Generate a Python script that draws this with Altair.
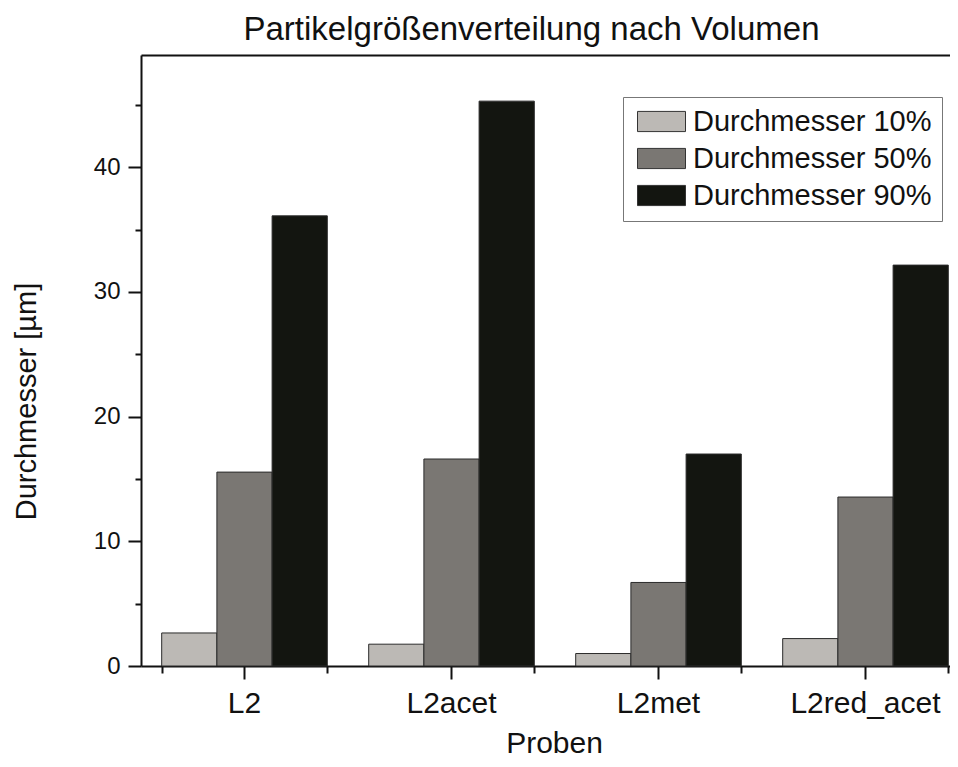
import altair as alt
import pandas as pd

proben = ["L2", "L2acet", "L2met", "L2red_acet"]
serien = ["Durchmesser 10%", "Durchmesser 50%", "Durchmesser 90%"]
d10 = [2.65, 1.75, 1.0, 2.2]
d50 = [15.55, 16.6, 6.7, 13.55]
d90 = [36.1, 45.3, 17.0, 32.15]
farben = ["#bcb9b5", "#7a7773", "#131510"]
y_ticks = [0, 5, 10, 15, 20, 25, 30, 35, 40, 45]

rows = []
for s, vals in zip(serien, [d10, d50, d90]):
    for p, v in zip(proben, vals):
        rows.append({"Probe": p, "Serie": s, "Wert": v})
df = pd.DataFrame(rows)
df_p = pd.DataFrame({"Probe": proben})

FONT = "Liberation Sans"
INK = "#111111"
W, H = 809, 611

x_scale = alt.Scale(domain=proben, range=[0, 828], paddingInner=0.2, paddingOuter=0.1)
y_scale = alt.Scale(domain=[0, 49], nice=False, zero=True)

bars = alt.Chart(df).mark_bar(stroke="#2b2b2b", strokeWidth=1).encode(
    x=alt.X("Probe:N", scale=x_scale, sort=proben,
            axis=alt.Axis(title="Proben", orient="bottom", labelAngle=0,
                          labelFont=FONT, labelFontSize=30, labelColor=INK, labelPadding=9,
                          tickSize=13, tickWidth=2, tickColor=INK, tickBand="center",
                          domain=True, domainWidth=2, domainColor=INK, grid=False,
                          titleFont=FONT, titleFontSize=30, titleFontWeight="normal",
                          titleColor=INK, titleX=413, titleY=86, titleAlign="center",
                          titleBaseline="alphabetic")),
    xOffset=alt.XOffset("Serie:N", sort=serien),
    y=alt.Y("Wert:Q", scale=y_scale,
            axis=alt.Axis(title="Durchmesser [µm]", values=y_ticks,
                          labelExpr="datum.value % 10 === 0 ? datum.label : ''",
                          labelFont=FONT, labelFontSize=24, labelColor=INK, labelPadding=8,
                          tickSize={"condition": {"test": "datum.value % 10 === 0", "value": 13}, "value": 6},
                          tickWidth=2, tickColor=INK,
                          domain=True, domainWidth=2, domainColor=INK, grid=False,
                          titleFont=FONT, titleFontSize=29, titleFontWeight="normal",
                          titleColor=INK, titleX=-106, titleY=346, titleAngle=270,
                          titleAlign="center", titleBaseline="alphabetic")),
    color=alt.Color("Serie:N", scale=alt.Scale(domain=serien, range=farben),
                    legend=alt.Legend(title=None, orient="none", legendX=482, legendY=42,
                                      symbolType="M-0.833,-0.84H3.167V0.84H-0.833Z", symbolSize=576,
                                      symbolStrokeColor="#333333", symbolStrokeWidth=1,
                                      symbolOpacity=1,
                                      labelFont=FONT, labelFontSize=29, labelColor=INK,
                                      labelExpr="datum.label + '    '", labelLimit=600,
                                      labelOffset=31, rowPadding=7, padding=10,
                                      strokeColor="#777777",
                                      fillColor="white")),
)

minor_x = alt.Chart(df_p).mark_tick(opacity=0).encode(
    x=alt.X("Probe:N", scale=x_scale, sort=proben,
            axis=alt.Axis(title=None, orient="bottom", labels=False, domain=False,
                          tickSize=7, tickWidth=2, tickColor=INK, tickBand="extent",
                          grid=False)),
)

top_x = alt.Chart(df_p).mark_tick(opacity=0).encode(
    x=alt.X("Probe:N", scale=x_scale, sort=proben,
            axis=alt.Axis(title=None, orient="top", labels=False, ticks=False,
                          domain=True, domainWidth=2, domainColor=INK, grid=False)),
)

chart = alt.layer(bars, minor_x, top_x).resolve_axis(x="independent").properties(
    width=W, height=H,
    autosize=alt.AutoSizeParams(type="none"),
    padding={"left": 133, "top": 47, "right": 0, "bottom": 92},
    background="white",
    title=alt.TitleParams("Partikelgrößenverteilung nach Volumen", font=FONT, fontSize=33,
                          fontWeight="normal", color=INK, anchor="middle", dx=-14,
                          offset=12, dy=30, baseline="alphabetic"),
).configure_view(stroke=None)

chart.save("out.html", embed_options={"renderer": "svg", "actions": False})
